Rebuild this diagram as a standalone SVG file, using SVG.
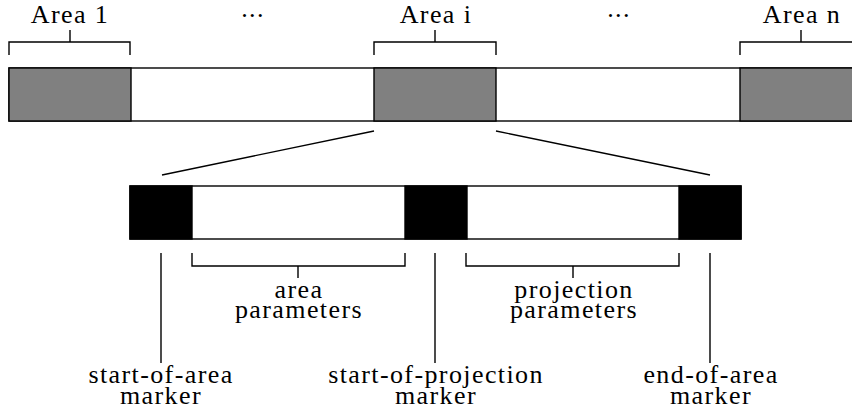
<svg xmlns="http://www.w3.org/2000/svg" width="852" height="409" viewBox="0 0 852 409">
<style>
.t{font-family:'Liberation Serif','Times New Roman',serif;font-size:26px;fill:#000;text-anchor:middle;letter-spacing:1.4px}
.s{stroke:#000;stroke-width:1.4;fill:none}
.g{fill:#808080;stroke:#000;stroke-width:1.4}
.w{fill:#fff;stroke:#000;stroke-width:1.4}
.b{fill:#000;stroke:#000;stroke-width:1.4}
</style>
<rect width="852" height="409" fill="#fff"/>
<g id="top-strip">
<rect class="w" x="9" y="68" width="860" height="53"/>
<rect class="g" x="9" y="68" width="122" height="53"/>
<rect class="g" x="374" y="68" width="122" height="53"/>
<rect class="g" x="740" y="68" width="130" height="53"/>
</g>
<g class="t">
<g id="area-1">
<path class="s" d="M9,55V42H130V55M70,42V30"/>
<text x="70" y="23">Area 1</text>
</g>
<g id="dots-1"><text x="253" y="17">...</text></g>
<g id="area-i">
<path class="s" d="M374,55V42H496V55M435,42V30"/>
<text x="436" y="23">Area i</text>
</g>
<g id="dots-2"><text x="619" y="17">...</text></g>
<g id="area-n">
<path class="s" d="M740,55V42H870M801,42V30"/>
<text x="802" y="23">Area n</text>
</g>
<g id="bottom-strip">
<rect class="w" x="130" y="186" width="611" height="53"/>
<rect class="b" x="130" y="186" width="62" height="53"/>
<rect class="b" x="405" y="186" width="62" height="53"/>
<rect class="b" x="679" y="186" width="62" height="53"/>
</g>
<g id="connectors">
<path class="s" d="M374,131L162,175M496,131L710,175"/>
<path class="s" d="M161,253V363M435,253V363M710,253V363"/>
</g>
<g id="area-parameters">
<path class="s" d="M192,253V266H405V253M298,266V278"/>
<text x="299" y="298">area</text>
<text x="299" y="318">parameters</text>
</g>
<g id="projection-parameters">
<path class="s" d="M466,253V266H679V253M573,266V278"/>
<text x="574" y="298">projection</text>
<text x="574" y="318">parameters</text>
</g>
<g id="start-of-area">
<text x="161" y="383">start-of-area</text>
<text x="161" y="404">marker</text>
</g>
<g id="start-of-projection">
<text x="436" y="383">start-of-projection</text>
<text x="436" y="404">marker</text>
</g>
<g id="end-of-area">
<text x="711" y="383">end-of-area</text>
<text x="711" y="404">marker</text>
</g>
</g>
</svg>
